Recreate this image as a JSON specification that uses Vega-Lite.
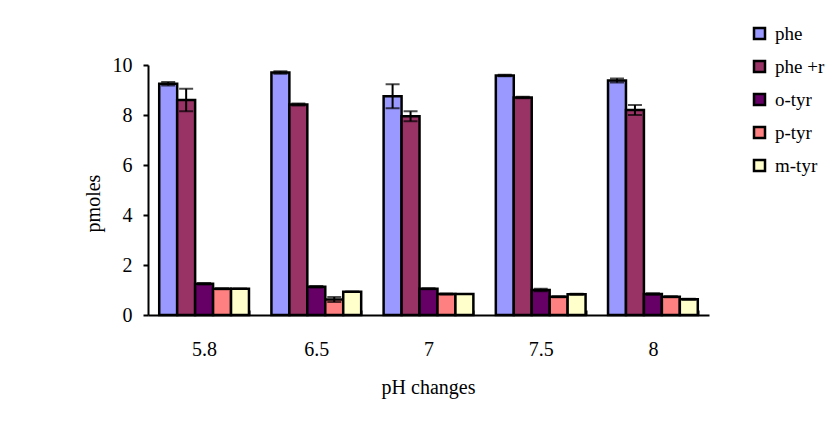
{
  "$schema": "https://vega.github.io/schema/vega-lite/v6.json",
  "autosize": "none",
  "padding": {"left": 148, "top": 65, "right": 116, "bottom": 119},
  "width": 561,
  "height": 250,
  "background": "white",
  "config": {
    "view": {"stroke": null},
    "font": "Liberation Serif",
    "axis": {"labelFont": "Liberation Serif", "titleFont": "Liberation Serif", "labelColor": "black", "titleColor": "black", "titleFontWeight": "normal", "domainColor": "black", "tickColor": "black", "grid": false},
    "legend": {"labelFont": "Liberation Serif", "labelColor": "black"}
  },
  "data": {"values": [
    {"pH": "5.8", "series": "phe", "value": 9.25, "err": 0.07},
    {"pH": "5.8", "series": "phe +r", "value": 8.6, "err": 0.45},
    {"pH": "5.8", "series": "o-tyr", "value": 1.25, "err": 0.03},
    {"pH": "5.8", "series": "p-tyr", "value": 1.05, "err": 0.02},
    {"pH": "5.8", "series": "m-tyr", "value": 1.05, "err": 0.0},
    {"pH": "6.5", "series": "phe", "value": 9.7, "err": 0.05},
    {"pH": "6.5", "series": "phe +r", "value": 8.42, "err": 0.04},
    {"pH": "6.5", "series": "o-tyr", "value": 1.13, "err": 0.03},
    {"pH": "6.5", "series": "p-tyr", "value": 0.62, "err": 0.1},
    {"pH": "6.5", "series": "m-tyr", "value": 0.93, "err": 0.0},
    {"pH": "7", "series": "phe", "value": 8.75, "err": 0.48},
    {"pH": "7", "series": "phe +r", "value": 7.95, "err": 0.2},
    {"pH": "7", "series": "o-tyr", "value": 1.05, "err": 0.02},
    {"pH": "7", "series": "p-tyr", "value": 0.84, "err": 0.02},
    {"pH": "7", "series": "m-tyr", "value": 0.84, "err": 0.0},
    {"pH": "7.5", "series": "phe", "value": 9.58, "err": 0.03},
    {"pH": "7.5", "series": "phe +r", "value": 8.7, "err": 0.03},
    {"pH": "7.5", "series": "o-tyr", "value": 1.0, "err": 0.05},
    {"pH": "7.5", "series": "p-tyr", "value": 0.73, "err": 0.02},
    {"pH": "7.5", "series": "m-tyr", "value": 0.83, "err": 0.02},
    {"pH": "8", "series": "phe", "value": 9.38, "err": 0.08},
    {"pH": "8", "series": "phe +r", "value": 8.2, "err": 0.2},
    {"pH": "8", "series": "o-tyr", "value": 0.84, "err": 0.03},
    {"pH": "8", "series": "p-tyr", "value": 0.73, "err": 0.02},
    {"pH": "8", "series": "m-tyr", "value": 0.63, "err": 0.02}
  ]},
  "encoding": {
    "x": {
      "field": "pH", "type": "nominal", "sort": null,
      "scale": {"paddingInner": 0.2, "paddingOuter": 0.1},
      "axis": {"title": "pH changes", "labelAngle": 0, "labelFont": "Liberation Serif", "titleFont": "Liberation Serif", "labelFontSize": 20, "titleFontSize": 20, "tickBand": "extent", "tickSize": -5, "tickWidth": 2, "domainWidth": 2, "labelPadding": 29, "labelBaseline": "top", "titleX": 280, "titleY": 72, "titleBaseline": "middle", "titleAlign": "center"}
    },
    "xOffset": {"field": "series", "type": "nominal", "sort": ["phe", "phe +r", "o-tyr", "p-tyr", "m-tyr"], "scale": {"paddingInner": 0, "paddingOuter": 0}},
    "y": {
      "field": "value", "type": "quantitative",
      "scale": {"domain": [0, 10], "nice": false},
      "axis": {"title": "pmoles", "values": [0, 2, 4, 6, 8, 10], "labelFont": "Liberation Serif", "titleFont": "Liberation Serif", "labelFontSize": 20, "titleFontSize": 20, "tickSize": 5, "tickWidth": 2, "domainWidth": 2, "labelPadding": 11, "titleX": -55, "titleY": 138, "titleBaseline": "middle", "titleAlign": "center"}
    }
  },
  "layer": [
    {
      "mark": {"type": "bar", "stroke": "black", "strokeWidth": 2.5},
      "encoding": {
        "color": {
          "field": "series", "type": "nominal",
          "sort": ["phe", "phe +r", "o-tyr", "p-tyr", "m-tyr"],
          "scale": {"domain": ["phe", "phe +r", "o-tyr", "p-tyr", "m-tyr"], "range": ["#9999FF", "#993366", "#660066", "#FF8080", "#FFFFCC"]},
          "legend": {"title": null, "orient": "none", "legendX": 602, "legendY": -41, "symbolType": "square", "symbolSize": 121, "symbolStrokeColor": "black", "symbolStrokeWidth": 2.5, "symbolOpacity": 1, "labelFont": "Liberation Serif", "labelFontSize": 19, "labelLimit": 200, "rowPadding": 12, "labelOffset": 6}
        }
      }
    },
    {
      "mark": {"type": "errorbar", "ticks": {"size": 14, "thickness": 2, "color": "black"}, "rule": {"strokeWidth": 2, "color": "black"}},
      "encoding": {
        "y": {"field": "value", "type": "quantitative"},
        "yError": {"field": "err"}
      }
    }
  ]
}
